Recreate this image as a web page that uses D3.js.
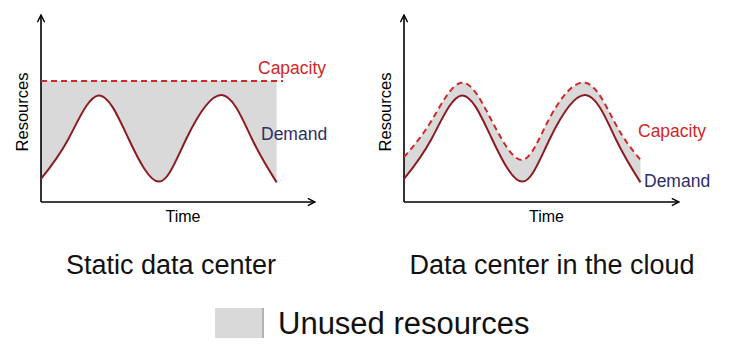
<!DOCTYPE html>
<html><head><meta charset="utf-8">
<script src="https://cdn.jsdelivr.net/npm/d3@7"></script>
<style>body{margin:0;background:#fff}svg{display:block;font-family:Arial,"Liberation Sans",sans-serif}</style>
</head><body><svg id="c" width="752" height="352"></svg>
<script>
// ---- data (time & resources in 0..100 units) ----
const time          = [0,    10,   21,   32,   43,   53,   66,   77,   86];
const demand        = [12.3, 33.7, 57.0, 33.7, 10.9, 33.7, 57.2, 33.7, 10.5];
const capacityCloud = [24.0, 43.5, 63.8, 43.2, 22.5, 45.0, 63.8, 41.5, 22.5];
const capacityStatic = [64.7, 64.7];
const capacityStaticTime = [0, 88.3];
const panelTitles = ["Static data center", "Data center in the cloud"];
const legendLabel = "Unused resources";

const svg = d3.select("#c");
const RED = "#d02828", DARK = "#8c1c24", NAVY = "#2e2e66", FILL = "#d9d9d9";

const defs = svg.append("defs");
defs.append("marker").attr("id","arr").attr("viewBox","0 0 10 10").attr("refX",9).attr("refY",5)
  .attr("markerWidth",9).attr("markerHeight",9).attr("markerUnits","userSpaceOnUse").attr("orient","auto")
  .append("path").attr("d","M1,1 L9,5 L1,9").attr("fill","none").attr("stroke","#000").attr("stroke-width",1.6);

const yScale = d3.scaleLinear().domain([0,100]).range([202,15]);
const curve = d3.curveNatural;

function panel(x0, x1, cloud, labels){
  const x = d3.scaleLinear().domain([0,100]).range([x0, x1]);
  const g = svg.append("g");
  const capAt = i => cloud ? capacityCloud[i] : capacityStatic[0];
  // fill (unused resources)
  g.append("path").datum(time.map((t,i)=>({t, d:demand[i], c:capAt(i)})))
    .attr("d", d3.area().x(d=>x(d.t)).y0(d=>yScale(d.d)).y1(d=>yScale(d.c)).curve(curve))
    .attr("fill", FILL);
  // axes
  g.append("line").attr("x1",x(0)).attr("y1",yScale(0)).attr("x2",x(0)).attr("y2",yScale(100))
    .attr("stroke","#000").attr("stroke-width",1.6).attr("marker-end","url(#arr)");
  g.append("line").attr("x1",x(0)).attr("y1",yScale(0)).attr("x2",x(100)).attr("y2",yScale(0))
    .attr("stroke","#000").attr("stroke-width",1.6).attr("marker-end","url(#arr)");
  // capacity
  const capData = cloud ? time.map((t,i)=>({t, v:capacityCloud[i]}))
                        : capacityStaticTime.map((t,i)=>({t, v:capacityStatic[i]}));
  g.append("path").datum(capData)
    .attr("d", d3.line().x(d=>x(d.t)).y(d=>yScale(d.v)).curve(curve))
    .attr("fill","none").attr("stroke",RED).attr("stroke-width",2).attr("stroke-dasharray","6,4");
  // demand
  g.append("path").datum(time.map((t,i)=>({t, v:demand[i]})))
    .attr("d", d3.line().x(d=>x(d.t)).y(d=>yScale(d.v)).curve(curve))
    .attr("fill","none").attr("stroke",DARK).attr("stroke-width",2);
  // axis labels
  g.append("text").attr("x",(x0+x1)/2+5).attr("y",222).attr("text-anchor","middle")
    .attr("font-size",16).text("Time");
  g.append("text").attr("transform",`translate(${x0-13},112) rotate(-90)`).attr("text-anchor","middle")
    .attr("font-size",16.5).text("Resources");
  // series labels
  g.append("text").attr("x",labels.cx).attr("y",labels.cy).attr("font-size",17.5).attr("fill",RED).text("Capacity");
  g.append("text").attr("x",labels.dx).attr("y",labels.dy).attr("font-size",17.5).attr("fill",NAVY).text("Demand");
  g.append("text").attr("x",labels.tx).attr("y",274).attr("text-anchor","middle").attr("font-size",27).attr("fill","#111")
    .text(labels.title);
}

panel(41, 315, false, {cx:258, cy:74, dx:261, dy:140, tx:171, title:panelTitles[0]});
panel(404, 679, true, {cx:638, cy:137, dx:644, dy:187, tx:552, title:panelTitles[1]});

// legend
svg.append("rect").attr("x",215).attr("y",308).attr("width",47).attr("height",30).attr("fill",FILL);
svg.append("line").attr("x1",263).attr("x2",263).attr("y1",308).attr("y2",338).attr("stroke","#9a9a9a").attr("stroke-width",1.5);
svg.append("text").attr("x",278).attr("y",334).attr("font-size",31).attr("fill","#111").text(legendLabel);
</script></body></html>
